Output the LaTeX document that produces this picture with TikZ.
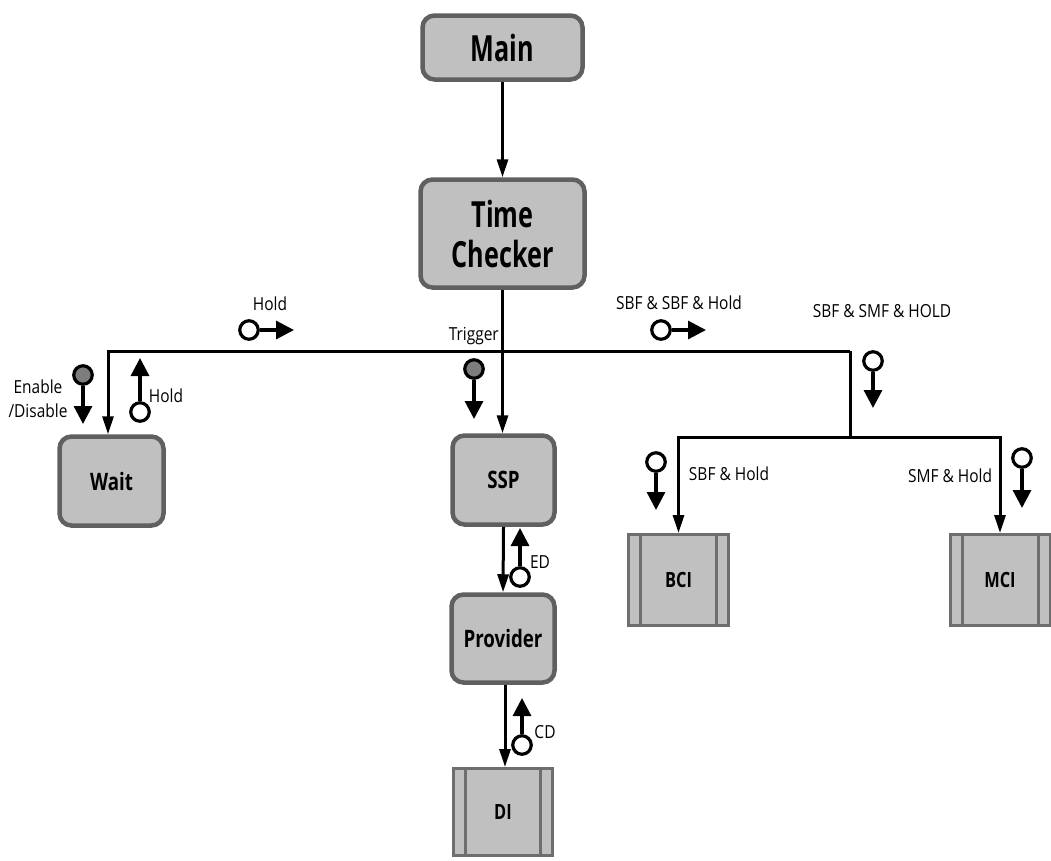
\documentclass[tikz,border=0pt]{standalone}
\usepackage{fontspec}
\setmainfont{Open Sans}
\newfontfamily\bigfont[FakeStretch=0.70]{Open Sans}
\newfontfamily\midfont[FakeStretch=0.78]{Open Sans}
\newfontfamily\smallfont[FakeStretch=0.86]{Open Sans}
\usetikzlibrary{arrows.meta}
\definecolor{boxfill}{RGB}{192,192,192}
\definecolor{boxline}{RGB}{96,96,96}
\definecolor{sqline}{RGB}{110,110,110}
\definecolor{sigfill}{RGB}{125,125,125}
\begin{document}
\begin{tikzpicture}[x=1pt,y=-1pt,
  rbox/.style={draw=boxline, fill=boxfill, line width=4.5pt, rounded corners=12pt, inner sep=0pt, text=black},
  bigbox/.style={rbox, font=\bigfont\bfseries\fontsize{36}{40}\selectfont, align=center},
  midbox/.style={rbox, font=\midfont\bfseries\fontsize{24}{28}\selectfont},
  sbox/.style={draw=sqline, fill=boxfill, line width=3pt, inner sep=0pt,
    minimum width=100pt, minimum height=91pt,
    font=\midfont\bfseries\fontsize{21}{24}\selectfont,
    path picture={
      \draw[sqline, line width=3pt]
        ([xshift=12pt]path picture bounding box.north west) -- ([xshift=12pt]path picture bounding box.south west)
        ([xshift=-12pt]path picture bounding box.north east) -- ([xshift=-12pt]path picture bounding box.south east);
    }},
  lbl/.style={font=\smallfont\fontsize{18}{24}\selectfont, inner sep=0pt},
  conn/.style={line width=3pt, -{Triangle[length=18pt,width=11pt]}},
  busline/.style={line width=3pt},
  sigarrow/.style={line width=3.2pt, -{Triangle[length=18pt,width=18pt]}},
  sigw/.style={circle, draw=black, line width=3.2pt, fill=white, minimum size=18.5pt, inner sep=0pt},
  sigg/.style={sigw, fill=sigfill}
]
\fill[white] (0,0) rectangle (1051,860);
\useasboundingbox (0,0) rectangle (1051,860);

% main boxes
\node[bigbox, minimum width=160pt, minimum height=64pt] (main) at (502.5,47.5) {Main};
\node[bigbox, minimum width=164pt, minimum height=108pt] (tc) at (502.5,233.5) {Time\\Checker};
\node[midbox, minimum width=104pt, minimum height=89pt] (wait) at (111.5,481) {Wait};
\node[midbox, minimum width=102pt, minimum height=89pt] (ssp) at (503.5,480) {SSP};
\node[midbox, minimum width=103pt, minimum height=88pt] (prov) at (503,638.5) {Provider};
\node[sbox] (bci) at (678.5,580) {BCI};
\node[sbox] (mci) at (1000,580) {MCI};
\node[sbox, minimum width=99pt, minimum height=87pt] (di) at (503,812) {DI};

% bus coordinates
\coordinate (busL) at (108,351);
\coordinate (busR) at (850,351);
\coordinate (sub) at (850,437);

% connectors
\draw[conn] (main.south) -- (tc.north);
\draw[conn] (tc.south) -- (tc.south |- ssp.north);
\draw[conn] (busR) -- (busL) -- (busL |- wait.north);
\draw[busline] (busR) -- (sub);
\draw[conn] (sub) -- (sub -| bci.north) -- (bci.north);
\draw[conn] (sub) -- (sub -| mci.north) -- (mci.north);
\draw[conn] (ssp.south) -- (prov.north);
\draw[conn] ([xshift=2pt]prov.south) -- ([xshift=2pt]di.north);

% signal glyphs
\node[sigw] (s1) at (249,330) {};
\coordinate (s1t) at (294,330);
\draw[sigarrow] (s1.east) -- (s1t);

\node[sigw] (s2) at (661,330) {};
\coordinate (s2t) at (706,330);
\draw[sigarrow] (s2.east) -- (s2t);

\node[sigg] (s3) at (83,375) {};
\coordinate (s3t) at (83,424);
\draw[sigarrow] (s3.south) -- (s3t);

\node[sigw] (s4) at (140,412) {};
\coordinate (s4t) at (140,358);
\draw[sigarrow] (s4.north) -- (s4t);

\node[sigg] (s5) at (474,369) {};
\coordinate (s5t) at (474,419);
\draw[sigarrow] (s5.south) -- (s5t);

\node[sigw] (s6) at (873,361) {};
\coordinate (s6t) at (873,408);
\draw[sigarrow] (s6.south) -- (s6t);

\node[sigw] (s7) at (656,462) {};
\coordinate (s7t) at (656,510);
\draw[sigarrow] (s7.south) -- (s7t);

\node[sigw] (s8) at (1022,458) {};
\coordinate (s8t) at (1022,508);
\draw[sigarrow] (s8.south) -- (s8t);

\node[sigw] (s9) at (520,577) {};
\coordinate (s9t) at (520,528);
\draw[sigarrow] (s9.north) -- (s9t);

\node[sigw] (s10) at (522,745) {};
\coordinate (s10t) at (522,698);
\draw[sigarrow] (s10.north) -- (s10t);

% labels
\node[lbl, anchor=base] (lhold1) at (270,310) {Hold};
\node[lbl, anchor=base] (lsbf) at (679,309) {SBF \& SBF \& Hold};
\node[lbl, anchor=base] (lsmf) at (882,317) {SBF \& SMF \& HOLD};
\node[lbl, anchor=base east] (ltrig) at (499,340) {Trigger};
\node[lbl, align=center] (len) at (38,399) {Enable\\/Disable};
\node[lbl, anchor=base] (lhold2) at (166,402) {Hold};
\node[lbl, anchor=base] (lsbfh) at (729,480) {SBF \& Hold};
\node[lbl, anchor=base] (lsmfh) at (950,482) {SMF \& Hold};
\node[lbl, anchor=base] (led) at (540,568) {ED};
\node[lbl, anchor=base] (lcd) at (545,738) {CD};
\end{tikzpicture}
\end{document}
